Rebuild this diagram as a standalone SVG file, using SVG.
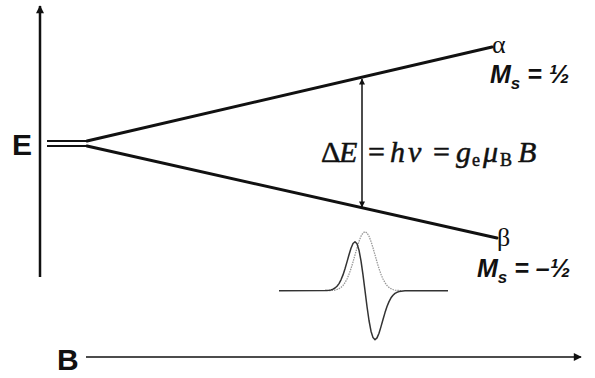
<svg xmlns="http://www.w3.org/2000/svg" width="595" height="378" viewBox="0 0 595 378">
<style>
.axis{stroke:#111;fill:none}
.lvl{stroke:#111;stroke-width:3;fill:none;stroke-linecap:round}
.lbl{font-family:"Liberation Sans",Arial,sans-serif;font-weight:bold;fill:#111}
.ms{font-family:"Liberation Sans",Arial,sans-serif;font-weight:bold;font-style:italic;fill:#111}
.eq{font-family:"Liberation Serif","Times New Roman",serif;fill:#111;stroke:#111;stroke-width:0.5;font-size:30px}
.gr{font-family:"Liberation Serif","Times New Roman",serif;fill:#111;font-size:26px}
</style>
<defs>
<marker id="ah" viewBox="0 0 10 10" refX="9" refY="5" markerWidth="10" markerHeight="8" markerUnits="userSpaceOnUse" orient="auto"><path d="M0,0 L10,5 L0,10 z" fill="#111"/></marker>
<marker id="ahs" viewBox="0 0 10 10" refX="9" refY="5" markerWidth="8" markerHeight="6" markerUnits="userSpaceOnUse" orient="auto"><path d="M0,0 L10,5 L0,10 z" fill="#111"/></marker>
</defs>
<g id="connectors">
<line class="axis" x1="40" y1="277" x2="40" y2="6" stroke-width="2.5" marker-end="url(#ah)"/>
<line class="axis" x1="86" y1="357" x2="581" y2="357" stroke-width="1.5" marker-end="url(#ah)"/>
<line class="axis" x1="362" y1="100" x2="362" y2="79" stroke-width="1.5" marker-end="url(#ahs)"/>
<line class="axis" x1="362" y1="100" x2="362" y2="207" stroke-width="1.5" marker-end="url(#ahs)"/>
</g>
<g id="levels">
<line x1="47" y1="141" x2="87" y2="141" stroke="#111" stroke-width="2"/>
<line x1="47" y1="146" x2="87" y2="146" stroke="#111" stroke-width="2"/>
<line class="lvl" x1="87" y1="141" x2="492" y2="47"/>
<line class="lvl" x1="87" y1="146" x2="497" y2="238"/>
</g>
<g id="axis-labels">
<text class="lbl" x="12" y="155" font-size="30">E</text>
<text class="lbl" x="57" y="370" font-size="30">B</text>
</g>
<g id="equation">
<text class="eq" y="162"><tspan x="321">Δ</tspan><tspan x="339" font-style="italic">E</tspan><tspan x="368">=</tspan><tspan x="390" font-style="italic">h</tspan><tspan x="408" font-style="italic">ν</tspan><tspan x="433">=</tspan><tspan x="456" font-style="italic">g</tspan><tspan x="472" font-size="18" dy="4">e</tspan><tspan x="483" dy="-4" font-style="italic">μ</tspan><tspan x="500" font-size="18" dy="4">B</tspan><tspan x="518" dy="-4" font-style="italic">B</tspan></text>
</g>
<g id="alpha">
<text class="gr" x="492" y="53">α</text>
<text class="ms" x="490" y="83" font-size="25">M<tspan font-size="17" dy="6">s</tspan><tspan dy="-6"> = ½</tspan></text>
</g>
<g id="beta">
<text class="gr" x="497" y="246">β</text>
<text class="ms" x="477" y="277" font-size="25">M<tspan font-size="17" dy="6">s</tspan><tspan dy="-6"> = –½</tspan></text>
</g>
<g id="spectrum">
<polyline fill="none" stroke="#999" stroke-width="1.3" stroke-dasharray="1.5 1" points="329,290.6 331,290.5 333,290.4 335,290.1 337,289.5 339,288.7 341,287.4 343,285.5 345,282.7 347,279 349,274.3 351,268.6 353,262 355,254.9 357,247.9 359,241.4 361,236.2 363,232.9 365,231.7 367,232.9 369,236.2 371,241.4 373,247.9 375,254.9 377,262 379,268.6 381,274.3 383,279 385,282.7 387,285.5 389,287.4 391,288.7 393,289.5 395,290.1 397,290.4 399,290.5 401,290.6"/>
<polyline fill="none" stroke="#333" stroke-width="1.5" stroke-linejoin="round" points="279,290.7 325,290.6 327,290.5 329,290.3 331,289.9 333,289.2 335,288 337,286.2 339,283.6 341,279.8 343,274.9 345,268.8 347,261.9 349,254.8 351,248.3 353,243.5 355,241.7 357,243.8 359,250.2 361,260.9 363,274.9 365,290.7 367,306.5 369,320.5 371,331.2 373,337.6 375,339.7 377,337.9 379,333.2 381,326.6 383,319.5 385,312.6 387,306.5 389,301.6 391,297.8 393,295.2 395,293.4 397,292.3 399,291.6 401,291.2 403,290.9 405,290.8 448,290.7"/>
</g>
</svg>
